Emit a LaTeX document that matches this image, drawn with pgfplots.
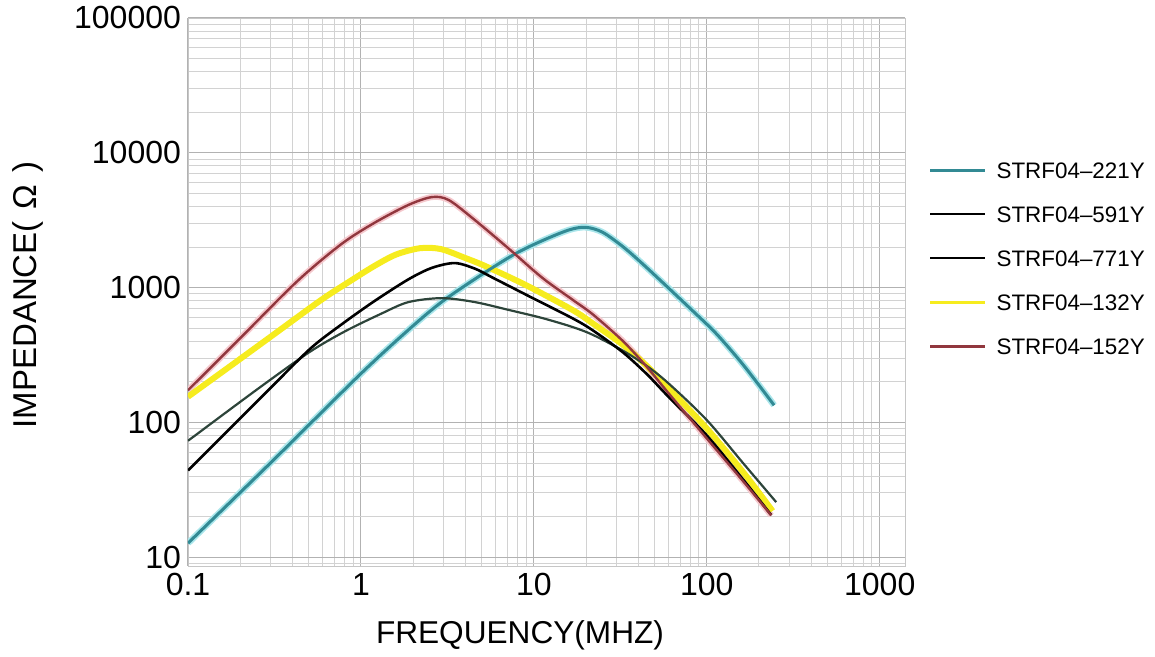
\documentclass[border=0pt]{standalone}
\usepackage{fontspec}
\setmainfont{Liberation Sans}
\usepackage{pgfplots}
\usepackage{pgfplotstable}
\pgfplotsset{compat=1.18}

\definecolor{tealc}{RGB}{50,138,148}
\definecolor{tealhalo}{RGB}{170,230,235}
\definecolor{redc}{RGB}{145,55,62}
\definecolor{redhalo}{RGB}{245,200,205}
\definecolor{yel}{RGB}{246,236,30}
\definecolor{dgreen}{RGB}{45,68,58}

\pgfplotstableread{
f z
0.1 12.7
0.3 50
1 230
2 520
3 800
5 1250
7.8 1780
11.2 2230
16 2680
20 2800
25 2570
33 1995
43 1480
58 1035
84 661
114 452
164 263
245 134
}\tealdata

\pgfplotstableread{
f z
0.1 73
0.25 175
0.5 330
0.8 470
1.31 640
1.88 780
2.94 835
4.57 780
7.21 681
11.2 594
16.8 509
22 445
32.8 340
45 262
60 195
100 104
164 49
252 25.6
}\dgdata

\pgfplotstableread{
f z
0.1 44
0.2 107
0.3 180
0.513 355
0.768 530
1.19 790
1.88 1150
2.57 1400
3.49 1520
4.57 1380
5.74 1190
9.42 860
16.8 590
22 480
32.8 330
45 228
60 155
100 80
164 37
236 20.5
}\blackdata

\pgfplotstableread{
f z
0.1 155
0.176 262
0.3 431
0.587 807
0.85 1100
1.2 1450
1.6 1760
2.2 1960
2.9 1930
4.0 1660
5.23 1445
8.94 1047
16.8 680
22 540
32.8 375
45 262
60 180
100 90
164 42
240 22
}\yeldata

\pgfplotstableread{
f z
0.1 173
0.2 420
0.43 1120
0.77 2100
1.19 3010
1.88 4100
2.57 4690
3.22 4460
4.57 3160
7.21 1930
11.2 1180
16.8 810
22 630
32.8 400
45 258
60 165
100 76
164 36
236 20.4
}\reddata

\begin{document}
\begin{tikzpicture}
\useasboundingbox (-94pt,-45.5pt) rectangle (483.5pt,283pt);
\begin{axis}[
  at={(0pt,0pt)}, anchor=south west,
  xmode=log, ymode=log,
  scale only axis, width=358.5pt, height=274pt,
  xmin=0.1, xmax=1400, ymin=8.6, ymax=100000,
  xtick={0.1,1,10,100,1000}, xticklabels={0.1,1,10,100,1000},
  ytick={10,100,1000,10000,100000}, yticklabels={10,100,1000,10000,100000},
  minor xtick={0.2,0.3,0.4,0.5,0.6,0.7,0.8,0.9,2,3,4,5,6,7,8,9,20,30,40,50,60,70,80,90,200,300,400,500,600,700,800,900},
  minor ytick={9,20,30,40,50,60,70,80,90,200,300,400,500,600,700,800,900,2000,3000,4000,5000,6000,7000,8000,9000,20000,30000,40000,50000,60000,70000,80000,90000},
  grid=both,
  major grid style={gray!60, line width=0.5pt},
  minor grid style={gray!35, line width=0.4pt},
  major tick length=0pt, minor tick length=0pt,
  axis line style={gray!45},
  tick label style={font=\fontsize{16}{19}\selectfont},
  xlabel={FREQUENCY(MHZ)},
  ylabel={IMPEDANCE(\hspace{6pt}Ω\hspace{6pt})},
  xlabel style={font=\fontsize{15.8}{18}\selectfont, at={(axis description cs:0.463,-0.126)}, anchor=center},
  ylabel style={font=\fontsize{16.5}{18}\selectfont, at={(axis description cs:-0.223,0.4945)}, anchor=center},
  legend style={at={(axis description cs:1.024,0.745)}, anchor=north west,
    draw=none, fill=none, font=\fontsize{11.2}{13}\selectfont,
    row sep=14pt, column sep=5pt,
    nodes={inner sep=0pt, text height=8pt, text depth=0pt}},
  legend cell align=left,
  legend image code/.code={\draw[#1] (0pt,0pt) -- (27.5pt,0pt);},
]
\addplot[smooth, tealhalo, line width=3.2pt, forget plot] table {\tealdata};
\addplot[smooth, redhalo, line width=3pt, forget plot] table {\reddata};
\addplot[smooth, yel, line width=3pt, forget plot] table {\yeldata};
\addplot[smooth, tealc, line width=1.5pt, forget plot] table {\tealdata};
\addplot[smooth, dgreen, line width=1.1pt, forget plot] table {\dgdata};
\addplot[smooth, black, line width=1.3pt, forget plot] table {\blackdata};
\addplot[smooth, redc, line width=1.2pt, forget plot] table {\reddata};

\addlegendimage{tealc, line width=1.5pt}
\addlegendentry{STRF04--221Y}
\addlegendimage{black, line width=0.9pt}
\addlegendentry{STRF04--591Y}
\addlegendimage{black, line width=0.9pt}
\addlegendentry{STRF04--771Y}
\addlegendimage{yel, line width=1.5pt}
\addlegendentry{STRF04--132Y}
\addlegendimage{redc, line width=1.5pt}
\addlegendentry{STRF04--152Y}
\end{axis}
\end{tikzpicture}
\end{document}
